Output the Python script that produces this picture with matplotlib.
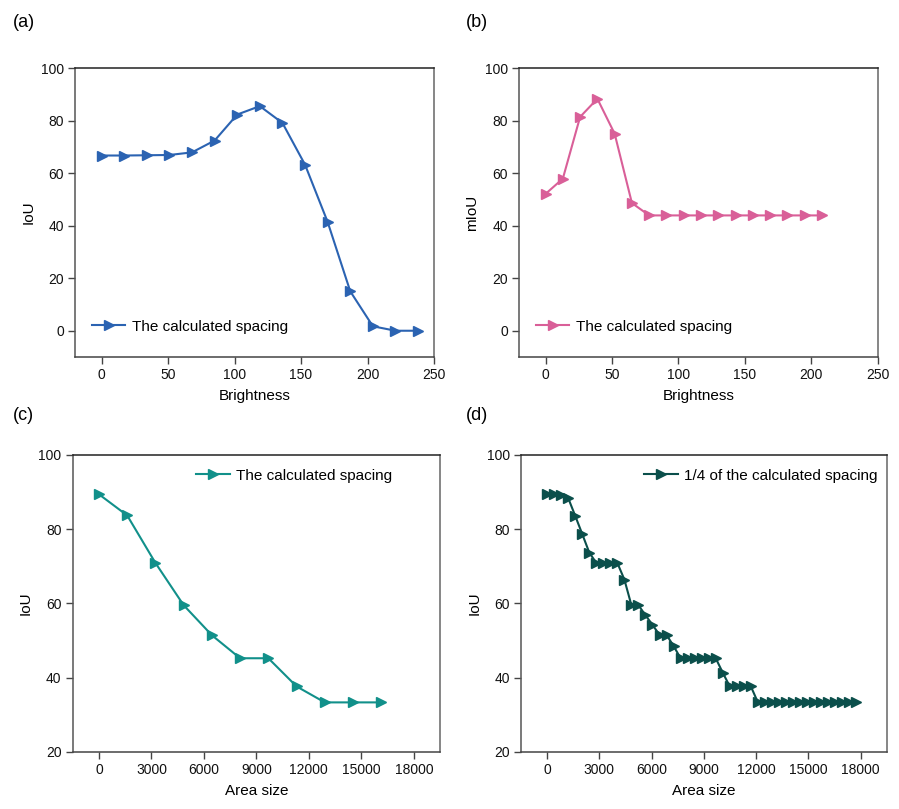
import matplotlib
matplotlib.use("Agg")
import matplotlib.pyplot as plt
import numpy as np

plt.rcParams['font.family'] = ['Liberation Sans', 'DejaVu Sans']

# Panel (a)
a_x = [0, 17, 34, 51, 68, 85, 102, 119, 136, 153, 170, 187, 204, 221, 238]
a_y = [66.7, 66.7, 66.8, 66.9, 67.9, 72.4, 82.3, 85.5, 79.1, 63.2, 41.4, 15.0, 1.7, 0.0, 0.0]
# Panel (b)
b_x = [0, 13, 26, 39, 52, 65, 78, 91, 104, 117, 130, 143, 156, 169, 182, 195, 208]
b_y = [52.1, 57.9, 81.4, 88.3, 75.0, 48.6, 43.9, 43.9, 43.9, 43.9, 43.9, 43.9, 43.9, 43.9, 43.9, 43.9, 43.9]
# Panel (c)
c_x = [0, 1614, 3228, 4842, 6456, 8070, 9684, 11298, 12912, 14526, 16140]
c_y = [89.4, 83.7, 70.9, 59.5, 51.4, 45.2, 45.2, 37.6, 33.3, 33.3, 33.3]
# Panel (d)
d_x = [0, 403.5, 807, 1210.5, 1614, 2017.5, 2421, 2824.5, 3228, 3631.5, 4035, 4438.5,
       4842, 5245.5, 5649, 6052.5, 6456, 6859.5, 7263, 7666.5, 8070, 8473.5, 8877, 9280.5,
       9684, 10087.5, 10491, 10894.5, 11298, 11701.5, 12105, 12508.5, 12912, 13315.5,
       13719, 14122.5, 14526, 14929.5, 15333, 15736.5, 16140, 16543.5, 16947, 17350.5, 17754]
d_y = [89.6, 89.6, 89.1, 88.4, 83.6, 78.7, 73.7, 70.9, 70.9, 70.9, 70.9, 66.4,
       59.5, 59.5, 56.8, 54.2, 51.5, 51.5, 48.5, 45.2, 45.2, 45.2, 45.2, 45.2,
       45.2, 41.3, 37.6, 37.6, 37.6, 37.6, 33.3, 33.3, 33.3, 33.3,
       33.3, 33.3, 33.3, 33.3, 33.3, 33.3, 33.3, 33.3, 33.3, 33.3, 33.3]

fig = plt.figure(figsize=(8.99, 8.09), dpi=100)

axes_pos = [
    [0.0834, 0.5587, 0.3994, 0.3572],
    [0.5773, 0.5587, 0.3990, 0.3572],
    [0.0809, 0.0708, 0.4086, 0.3668],
    [0.5795, 0.0708, 0.4068, 0.3668],
]

def style(ax):
    ax.spines['top'].set_color('#222222')
    ax.spines['right'].set_color('#666666')
    ax.spines['left'].set_color('#555555')
    ax.spines['bottom'].set_color('#444444')
    for s in ax.spines.values():
        s.set_linewidth(1.1)
    ax.tick_params(direction='out', length=5, width=1, color='#444444',
                   labelsize=10, labelcolor='#111111', pad=3)

MS = 7.5
LEG = dict(frameon=False, fontsize=11, handlelength=2.2, handletextpad=0.4)

# (a)
ax = fig.add_axes(axes_pos[0])
ax.plot(a_x, a_y, color='#2b63b2', marker='>', markersize=MS, linewidth=1.5,
        label='The calculated spacing')
ax.set_xlim(-20, 250)
ax.set_ylim(-10, 100)
ax.set_xticks([0, 50, 100, 150, 200, 250])
ax.set_yticks([0, 20, 40, 60, 80, 100])
ax.set_xlabel('Brightness', fontsize=11, labelpad=5)
ax.set_ylabel('IoU', fontsize=11)
ax.legend(loc='lower left', bbox_to_anchor=(0.03, 0.06), borderaxespad=0, **LEG)
style(ax)
fig.text(0.014, 0.972, '(a)', fontsize=13, va='center', ha='left')

# (b)
ax = fig.add_axes(axes_pos[1])
ax.plot(b_x, b_y, color='#d95f98', marker='>', markersize=MS, linewidth=1.5,
        label='The calculated spacing')
ax.set_xlim(-20, 250)
ax.set_ylim(-10, 100)
ax.set_xticks([0, 50, 100, 150, 200, 250])
ax.set_yticks([0, 20, 40, 60, 80, 100])
ax.set_xlabel('Brightness', fontsize=11, labelpad=5)
ax.set_ylabel('mIoU', fontsize=11)
ax.legend(loc='lower left', bbox_to_anchor=(0.03, 0.06), borderaxespad=0, **LEG)
style(ax)
fig.text(0.518, 0.972, '(b)', fontsize=13, va='center', ha='left')

# (c)
ax = fig.add_axes(axes_pos[2])
ax.plot(c_x, c_y, color='#11908a', marker='>', markersize=MS, linewidth=1.5,
        label='The calculated spacing')
ax.set_xlim(-1500, 19500)
ax.set_ylim(20, 100)
ax.set_xticks([0, 3000, 6000, 9000, 12000, 15000, 18000])
ax.set_yticks([20, 40, 60, 80, 100])
ax.set_xlabel('Area size', fontsize=11, labelpad=5)
ax.set_ylabel('IoU', fontsize=11)
ax.legend(loc='upper right', bbox_to_anchor=(0.89, 0.98), borderaxespad=0.1, **LEG)
style(ax)
fig.text(0.014, 0.486, '(c)', fontsize=13, va='center', ha='left')

# (d)
ax = fig.add_axes(axes_pos[3])
ax.plot(d_x, d_y, color='#0b4f4b', marker='>', markersize=MS, linewidth=1.5,
        label='1/4 of the calculated spacing')
ax.set_xlim(-1500, 19500)
ax.set_ylim(20, 100)
ax.set_xticks([0, 3000, 6000, 9000, 12000, 15000, 18000])
ax.set_yticks([20, 40, 60, 80, 100])
ax.set_xlabel('Area size', fontsize=11, labelpad=5)
ax.set_ylabel('IoU', fontsize=11)
ax.legend(loc='upper right', bbox_to_anchor=(0.995, 0.98), borderaxespad=0.1, **LEG)
style(ax)
fig.text(0.518, 0.486, '(d)', fontsize=13, va='center', ha='left')

fig.savefig('out.png', dpi=100)
